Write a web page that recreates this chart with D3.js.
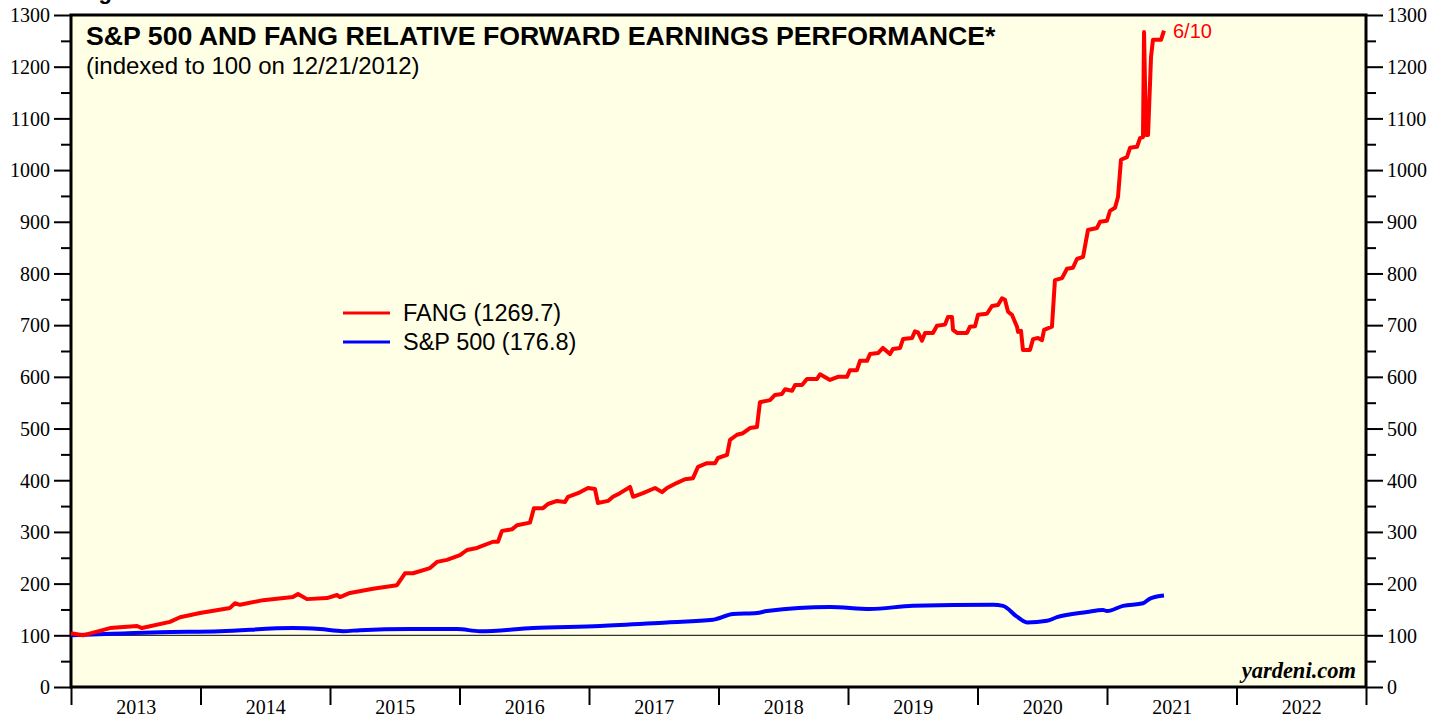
<head>
    <meta charset="utf-8">
    <style>
        body { margin: 0; background: #ffffff; }
        .ax text { font-family: "Liberation Serif", serif; font-size: 20px; fill: #000; }
        .ax path { display: none; }
        .ax line { stroke: #000; stroke-width: 2; }
    </style>
    <script src="https://d3js.org/d3.v7.min.js"></script>
</head>
<body>
<div id="chart"></div>
<script>

    // years shown on the bottom axis (labels sit between the boundary ticks)
    var years = [2013, 2014, 2015, 2016, 2017, 2018, 2019, 2020, 2021, 2022];
    var yTicks = [0, 100, 200, 300, 400, 500, 600, 700, 800, 900, 1000, 1100, 1200, 1300];

    var seriesNames = ["FANG (1269.7)", "S&P 500 (176.8)"];
    var seriesColors = ["#ff0000", "#0000ff"];

    // FANG, [decimal year, index]
    var fang = [
        [2013.000, 104], [2013.093, 100], [2013.301, 114], [2013.510, 118], [2013.548, 114],
        [2013.764, 126], [2013.842, 135], [2013.996, 143], [2014.228, 153], [2014.266, 162],
        [2014.305, 159], [2014.483, 168], [2014.714, 174], [2014.753, 180], [2014.822, 170],
        [2014.977, 172], [2015.054, 178], [2015.077, 174], [2015.154, 182], [2015.332, 190],
        [2015.517, 197], [2015.579, 220], [2015.641, 220], [2015.772, 230], [2015.826, 242],
        [2015.903, 246], [2016.004, 255], [2016.058, 265], [2016.135, 269], [2016.259, 281],
        [2016.297, 281], [2016.328, 302], [2016.405, 305], [2016.444, 313], [2016.544, 318],
        [2016.575, 346], [2016.645, 346], [2016.683, 354], [2016.753, 360], [2016.815, 358],
        [2016.838, 368], [2016.915, 375], [2016.992, 385], [2017.046, 383], [2017.069, 356],
        [2017.147, 360], [2017.185, 368], [2017.239, 375], [2017.317, 387], [2017.340, 368],
        [2017.417, 375], [2017.510, 385], [2017.564, 377], [2017.602, 385], [2017.680, 395],
        [2017.741, 402], [2017.803, 404], [2017.842, 426], [2017.911, 433], [2017.973, 433],
        [2017.996, 443], [2018.066, 449], [2018.089, 478], [2018.143, 488], [2018.189, 491],
        [2018.243, 501], [2018.297, 503], [2018.320, 551], [2018.398, 555], [2018.436, 565],
        [2018.490, 567], [2018.514, 576], [2018.568, 573], [2018.591, 584], [2018.645, 584],
        [2018.683, 596], [2018.761, 596], [2018.784, 605], [2018.861, 594], [2018.923, 600],
        [2018.992, 600], [2019.015, 613], [2019.069, 613], [2019.093, 631], [2019.147, 631],
        [2019.170, 644], [2019.232, 646], [2019.270, 656], [2019.324, 644], [2019.347, 654],
        [2019.402, 656], [2019.425, 673], [2019.494, 675], [2019.517, 688], [2019.541, 686],
        [2019.571, 670], [2019.595, 685], [2019.656, 685], [2019.687, 699], [2019.749, 701],
        [2019.772, 716], [2019.803, 716], [2019.811, 691], [2019.842, 685], [2019.919, 685],
        [2019.942, 697], [2019.981, 698], [2020.004, 720], [2020.073, 722], [2020.112, 737],
        [2020.158, 739], [2020.189, 752], [2020.212, 749], [2020.236, 726], [2020.266, 720],
        [2020.305, 697], [2020.313, 687], [2020.336, 689], [2020.351, 652], [2020.405, 652],
        [2020.429, 673], [2020.467, 675], [2020.498, 671], [2020.514, 691], [2020.575, 697],
        [2020.598, 787], [2020.653, 791], [2020.691, 809], [2020.737, 811], [2020.768, 828],
        [2020.815, 832], [2020.853, 884], [2020.923, 888], [2020.946, 900], [2021.000, 902],
        [2021.023, 921], [2021.062, 927], [2021.085, 948], [2021.108, 1020], [2021.154, 1025],
        [2021.178, 1043], [2021.232, 1045], [2021.255, 1062], [2021.278, 1064], [2021.286, 1267],
        [2021.301, 1068], [2021.317, 1068], [2021.340, 1219], [2021.355, 1252], [2021.417, 1252],
        [2021.440, 1269.7]
    ];

    // S&P 500, [decimal year, index]
    var spx = [
        [2013.000, 100], [2013.687, 106], [2014.151, 108], [2014.714, 114], [2014.923, 112],
        [2015.100, 108], [2015.232, 110], [2015.618, 112], [2015.981, 112], [2016.158, 108],
        [2016.568, 114], [2017.085, 118], [2017.602, 125], [2017.958, 130], [2018.112, 141],
        [2018.297, 143], [2018.375, 147], [2018.861, 155], [2019.170, 151], [2019.502, 157],
        [2020.120, 159], [2020.197, 157], [2020.305, 136], [2020.382, 125], [2020.537, 128],
        [2020.614, 135], [2020.846, 145], [2020.969, 149], [2021.000, 147], [2021.124, 157],
        [2021.278, 162], [2021.332, 171], [2021.440, 176.8]
    ];

    var W = 1448, H = 719;
    var margin = { top: 15, right: 82, bottom: 32, left: 71 };

    var svg = d3.select("#chart").append("svg")
        .attr("width", W)
        .attr("height", H);

    var x = d3.scaleLinear()
        .domain([years[0], years[years.length - 1] + 1])
        .range([margin.left, W - margin.right]);

    var y = d3.scaleLinear()
        .domain([0, 1300])
        .range([H - margin.bottom, margin.top]);

    // plot background
    svg.append("rect")
        .attr("x", x.range()[0])
        .attr("y", y.range()[1])
        .attr("width", x.range()[1] - x.range()[0])
        .attr("height", y.range()[0] - y.range()[1])
        .attr("fill", "#ffffe6");

    // heading above the frame, cut off by the page edge as in the original
    svg.append("text")
        .attr("x", 79)
        .attr("y", -1)
        .attr("font-family", "Liberation Sans, Arial, sans-serif")
        .attr("font-weight", "bold")
        .attr("font-size", 22)
        .text("Figure");

    // reference line at 100
    svg.append("line")
        .attr("x1", x.range()[0])
        .attr("x2", x.range()[1])
        .attr("y1", y(100))
        .attr("y2", y(100))
        .attr("stroke", "#000")
        .attr("stroke-width", 1);

    // y axes, left and right, with minor ticks at the 50s
    var minor = yTicks.slice(0, -1).map(d => d + 50);
    var fmt = d3.format("d");

    svg.append("g").attr("class", "ax")
        .attr("transform", `translate(${x.range()[0]},0)`)
        .call(d3.axisLeft(y).tickValues(yTicks).tickSize(17).tickPadding(4).tickFormat(fmt));
    svg.append("g").attr("class", "ax")
        .attr("transform", `translate(${x.range()[0]},0)`)
        .call(d3.axisLeft(y).tickValues(minor).tickSize(10).tickFormat(""));

    svg.append("g").attr("class", "ax")
        .attr("transform", `translate(${x.range()[1]},0)`)
        .call(d3.axisRight(y).tickValues(yTicks).tickSize(17).tickPadding(4).tickFormat(fmt));
    svg.append("g").attr("class", "ax")
        .attr("transform", `translate(${x.range()[1]},0)`)
        .call(d3.axisRight(y).tickValues(minor).tickSize(10).tickFormat(""));

    svg.selectAll(".ax text").attr("dy", "0.34em");

    // x axis: boundary ticks, labels centred in each year
    var xTicks = svg.append("g").attr("class", "ax")
        .attr("transform", `translate(0,${y.range()[0]})`)
        .call(d3.axisBottom(x).tickValues(years.concat([years[years.length - 1] + 1])).tickSize(18).tickFormat(""));
    xTicks.selectAll("line").attr("stroke-width", 3);

    svg.append("g").attr("class", "ax")
        .attr("transform", `translate(0,${y.range()[0]})`)
        .call(d3.axisBottom(x).tickValues(years.map(d => d + 0.5)).tickSize(0).tickPadding(13).tickFormat(d => Math.floor(d)))
        .selectAll("text").attr("font-size", 21);

    // frame
    svg.append("rect")
        .attr("x", x.range()[0])
        .attr("y", y.range()[1])
        .attr("width", x.range()[1] - x.range()[0])
        .attr("height", y.range()[0] - y.range()[1])
        .attr("fill", "none")
        .attr("stroke", "#000")
        .attr("stroke-width", 3);

    // lines
    var lineF = d3.line()
        .x(d => x(d[0]))
        .y(d => y(d[1]));

    var lineS = d3.line()
        .curve(d3.curveMonotoneX)
        .x(d => x(d[0]))
        .y(d => y(d[1]));

    svg.append("path")
        .datum(spx)
        .attr("d", lineS)
        .attr("fill", "none")
        .attr("stroke", seriesColors[1])
        .attr("stroke-width", 4)
        .attr("stroke-linejoin", "round");

    svg.append("path")
        .datum(fang)
        .attr("d", lineF)
        .attr("fill", "none")
        .attr("stroke", seriesColors[0])
        .attr("stroke-width", 4)
        .attr("stroke-linejoin", "round");

    // end date label
    var last = fang[fang.length - 1];
    svg.append("text")
        .attr("x", x(last[0]) + 9)
        .attr("y", y(last[1]) + 7)
        .attr("font-family", "Liberation Sans, Arial, sans-serif")
        .attr("font-size", 20)
        .attr("fill", seriesColors[0])
        .text("6/10");

    // titles
    svg.append("text")
        .attr("x", 86)
        .attr("y", 45)
        .attr("font-family", "Liberation Sans, Arial, sans-serif")
        .attr("font-weight", "bold")
        .attr("font-size", 26.7)
        .text("S&P 500 AND FANG RELATIVE FORWARD EARNINGS PERFORMANCE*");

    svg.append("text")
        .attr("x", 86)
        .attr("y", 74)
        .attr("font-family", "Liberation Sans, Arial, sans-serif")
        .attr("font-size", 24)
        .text("(indexed to 100 on 12/21/2012)");

    // legend
    var legend = svg.append("g").attr("transform", "translate(343,313)");
    seriesNames.forEach(function(name, i) {
        legend.append("line")
            .attr("x1", 0).attr("x2", 47)
            .attr("y1", i * 29).attr("y2", i * 29)
            .attr("stroke", seriesColors[i])
            .attr("stroke-width", 3);
        legend.append("text")
            .attr("x", 60)
            .attr("y", i * 29 + 8)
            .attr("font-family", "Liberation Sans, Arial, sans-serif")
            .attr("font-size", 23.5)
            .text(name);
    });

    // source
    svg.append("text")
        .attr("x", 1356)
        .attr("y", 678)
        .attr("text-anchor", "end")
        .attr("font-family", "Liberation Serif, serif")
        .attr("font-weight", "bold")
        .attr("font-style", "italic")
        .attr("font-size", 22.5)
        .text("yardeni.com");

</script>
</body>
